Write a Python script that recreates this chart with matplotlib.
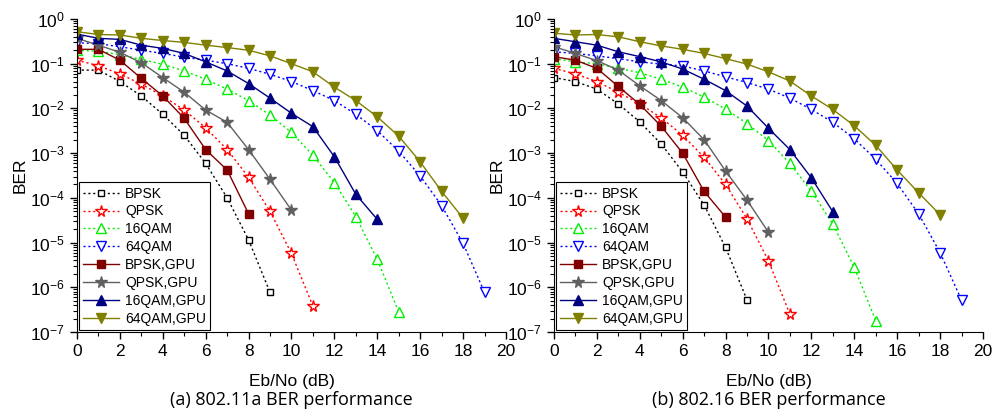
import matplotlib
matplotlib.use('Agg')
from matplotlib import pyplot as plt
from matplotlib.ticker import MultipleLocator, LogLocator, NullFormatter
import numpy as np

plt.rcParams['font.family'] = ['Liberation Sans', 'DejaVu Sans']
plt.rcParams['mathtext.fontset'] = 'custom'
plt.rcParams['mathtext.rm'] = 'Liberation Sans'
plt.rcParams['mathtext.it'] = 'Liberation Sans:italic'
plt.rcParams['mathtext.bf'] = 'Liberation Sans:bold'
plt.rcParams['mathtext.default'] = 'regular'

# --- Datos ---------------------------------------------------------------------------------------
labels = ['BPSK', 'QPSK', '16QAM', '64QAM', 'BPSK,GPU', 'QPSK,GPU', '16QAM,GPU', '64QAM,GPU']
captions = ['(a) 802.11a BER performance', '(b) 802.16 BER performance']

# (a) 802.11a
a_bpsk = [0.072, 0.072, 0.04, 0.019, 0.0074, 0.0025, 5.9e-4, 1.0e-4, 1.15e-5, 7.7e-7]
a_qpsk = [0.12, 0.09, 0.059, 0.035, 0.019, 0.0092, 0.0037, 0.0012, 2.9e-4, 5.0e-5, 5.7e-6, 3.8e-7]
a_16qam = [0.2, 0.19, 0.16, 0.125, 0.097, 0.069, 0.045, 0.027, 0.015, 0.0071, 0.0029, 8.9e-4,
           2.2e-4, 3.8e-5, 4.2e-6, 2.8e-7]
a_64qam = [0.295, 0.28, 0.24, 0.20, 0.17, 0.14, 0.12, 0.10, 0.079, 0.058, 0.04, 0.025, 0.015,
           0.0074, 0.0032, 0.0011, 3.1e-4, 6.7e-5, 9.6e-6, 7.7e-7]
a_bpsk_gpu = [0.21, 0.21, 0.12, 0.047, 0.019, 0.006, 0.0012, 4.2e-4, 4.4e-5]
a_qpsk_gpu = [0.37, 0.26, 0.18, 0.105, 0.049, 0.023, 0.0092, 0.0049, 0.0012, 2.6e-4, 5.3e-5]
a_16qam_gpu = [0.46, 0.37, 0.35, 0.26, 0.22, 0.17, 0.11, 0.069, 0.036, 0.017, 0.0078, 0.0039,
               8.3e-4, 1.2e-4, 3.3e-5]
a_64qam_gpu = [0.52, 0.45, 0.44, 0.37, 0.33, 0.30, 0.26, 0.23, 0.20, 0.15, 0.10, 0.066, 0.03,
               0.015, 0.0065, 0.0024, 6.4e-4, 1.4e-4, 3.5e-5]

# (b) 802.16
b_bpsk = [0.049, 0.04, 0.027, 0.0126, 0.005, 0.0016, 3.8e-4, 6.9e-5, 7.8e-6, 5.2e-7]
b_qpsk = [0.079, 0.059, 0.04, 0.023, 0.0126, 0.0062, 0.0025, 8.1e-4, 2.0e-4, 3.4e-5, 3.9e-6, 2.5e-7]
b_16qam = [0.13, 0.11, 0.10, 0.079, 0.063, 0.045, 0.03, 0.018, 0.0097, 0.0046, 0.0019, 5.9e-4,
           1.4e-4, 2.6e-5, 2.8e-6, 1.8e-7]
b_64qam = [0.185, 0.17, 0.15, 0.13, 0.11, 0.098, 0.089, 0.069, 0.051, 0.038, 0.027, 0.017,
           0.0095, 0.0049, 0.0021, 7.3e-4, 2.1e-4, 4.4e-5, 6.0e-6, 5.2e-7]
b_bpsk_gpu = [0.144, 0.12, 0.079, 0.031, 0.0123, 0.004, 0.001, 1.4e-4, 3.7e-5]
b_qpsk_gpu = [0.24, 0.17, 0.117, 0.072, 0.032, 0.015, 0.0062, 0.002, 4.0e-4, 8.9e-5, 1.7e-5]
b_16qam_gpu = [0.37, 0.31, 0.26, 0.185, 0.144, 0.11, 0.076, 0.045, 0.025, 0.0113, 0.0036,
               0.0012, 2.8e-4, 4.9e-5]
b_64qam_gpu = [0.48, 0.44, 0.45, 0.40, 0.31, 0.25, 0.21, 0.17, 0.13, 0.098, 0.066, 0.041, 0.019,
               0.0095, 0.0041, 0.0015, 4.2e-4, 1.3e-4, 4.2e-5]

panels = [
    [a_bpsk, a_qpsk, a_16qam, a_64qam, a_bpsk_gpu, a_qpsk_gpu, a_16qam_gpu, a_64qam_gpu],
    [b_bpsk, b_qpsk, b_16qam, b_64qam, b_bpsk_gpu, b_qpsk_gpu, b_16qam_gpu, b_64qam_gpu],
]

# --- Estilos -------------------------------------------------------------------------------------
colors = ['black', '#ff0000', '#00ee00', '#0000ff', '#800000', '#606060', '#000080', '#808000']
markers = ['s', '*', '^', 'v', 's', '*', '^', 'v']
filled = [False] * 4 + [True] * 4
msizes = [5, 8.5, 7, 7, 5.5, 8.5, 7, 7]

fig = plt.figure(figsize=(9.96, 4.16), dpi=100)
axes = [fig.add_axes([0.0773, 0.2019, 0.4307, 0.7524]),
        fig.add_axes([0.5562, 0.2019, 0.4307, 0.7524])]

for ax, series, cap in zip(axes, panels, captions):
    for y, lab, c, m, f, ms in zip(series, labels, colors, markers, filled, msizes):
        x = np.arange(len(y))
        ls = '-' if f else (0, (1.5, 2))
        ax.semilogy(x, y, linestyle=ls, color=c, lw=1.0, marker=m, markersize=ms,
                    markerfacecolor=c if f else 'white', markeredgecolor=c,
                    markeredgewidth=1.0, label=lab)

    ax.set_xlim(0, 20)
    ax.set_ylim(1e-7, 1)
    ax.xaxis.set_major_locator(MultipleLocator(2))
    ax.xaxis.set_minor_locator(MultipleLocator(1))
    ax.yaxis.set_major_locator(LogLocator(base=10, numticks=10))
    ax.yaxis.set_minor_locator(LogLocator(base=10, subs=np.arange(2, 10), numticks=20))
    ax.yaxis.set_minor_formatter(NullFormatter())
    ax.spines['top'].set_visible(False)
    ax.spines['right'].set_visible(False)
    ax.tick_params(which='major', direction='out', length=5, width=1, labelsize=12.5)
    ax.tick_params(which='minor', direction='out', length=3, width=0.8)
    ax.set_xlabel('Eb/No (dB)', fontsize=12.5, labelpad=11)
    ax.set_ylabel('BER', fontsize=12.5, labelpad=2)

    # leyenda de la figura debajo de cada panel
    bb = ax.get_position()
    fig.text((bb.x0 + bb.x1) / 2, 0.0385, cap, ha='center', va='center',
             fontsize=13, family=['Open Sans', 'DejaVu Sans'])

    leg = ax.legend(loc='lower left', fontsize=10, frameon=True, fancybox=False,
                    edgecolor='black', framealpha=1, borderpad=0.3, labelspacing=0.28,
                    handlelength=2.6, handletextpad=0.4, borderaxespad=0.15)
    leg.get_frame().set_linewidth(0.8)

plt.savefig('out.png', dpi=100)
